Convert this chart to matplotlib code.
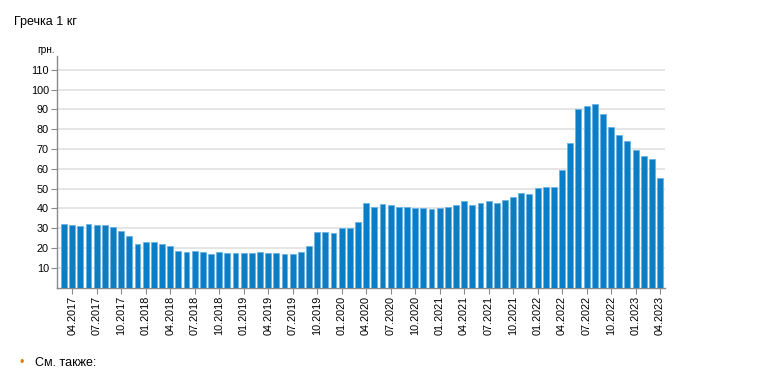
import matplotlib
matplotlib.use("Agg")
import matplotlib.pyplot as plt
import numpy as np

plt.rcParams['font.family'] = ['Liberation Sans', 'DejaVu Sans']

months = []
for y in range(2017, 2024):
    for m in range(1, 13):
        if (y == 2017 and m < 3) or (y == 2023 and m > 4):
            continue
        months.append(f"{m:02d}.{y}")

prices = [
    32.0, 31.5, 31.0, 32.0, 31.5, 31.5, 30.5, 28.6, 25.9, 21.9,
    23.1, 23.1, 21.9, 20.8, 18.6, 17.8, 18.6, 17.8, 16.8, 17.8, 17.3, 17.3,
    17.3, 17.3, 17.8, 17.3, 17.3, 16.8, 16.8, 17.8, 20.8, 28.2, 28.2, 27.8,
    30.0, 30.0, 33.2, 42.9, 40.5, 42.4, 41.9, 40.5, 40.5, 40.0, 40.0, 39.7,
    40.0, 40.5, 41.9, 43.7, 41.9, 42.9, 43.7, 42.9, 44.2, 45.6, 47.8, 47.5,
    50.2, 50.7, 51.0, 59.2, 72.8, 90.2, 91.9, 92.9, 87.9, 81.1, 76.9, 73.9,
    69.6, 66.4, 64.8, 55.6,
]

yticks = [10, 20, 30, 40, 50, 60, 70, 80, 90, 100, 110]
title = "Гречка 1 кг"
unit = "грн."
footer = "См. также:"

fig = plt.figure(figsize=(7.64, 3.71), dpi=100)
ax = fig.add_axes([0.075, 0.225, 0.7954, 0.624])

x = np.arange(len(prices))
ax.bar(x, prices, width=0.72, color="#0a7dc5", edgecolor="#6db3e2", linewidth=0.6, zorder=3)

ax.set_xlim(-0.82, len(prices) - 0.4)
ax.set_ylim(0, 117)
ax.set_yticks(yticks)
ax.set_yticklabels([str(v) for v in yticks], fontsize=7.8, color="#000000")
ax.yaxis.grid(True, color="#e3e3e3", linewidth=1.3, zorder=0)
ax.set_axisbelow(True)

tick_idx = [i for i, mth in enumerate(months) if mth[:2] in ("01", "04", "07", "10")]
ax.set_xticks(tick_idx)
ax.set_xticklabels([months[i] for i in tick_idx], rotation=90, fontsize=7.8, va="top", ha="center")

for s in ("top", "right"):
    ax.spines[s].set_visible(False)
for s in ("left", "bottom"):
    ax.spines[s].set_color("#8a8a8a")
    ax.spines[s].set_linewidth(1.0)
ax.tick_params(axis="both", colors="#8a8a8a", labelcolor="#000000", length=4, width=0.8)
ax.tick_params(axis="x", pad=2)
ax.tick_params(axis="y", pad=2)

fig.text(14 / 764, 1 - 22 / 371, title, fontsize=9, va="center", ha="left")
fig.text(46 / 764, 1 - 50 / 371, unit, fontsize=7.2, va="center", ha="center")
fig.text(22 / 764, 1 - 363 / 371, "•", fontsize=9, color="#e07b00", va="center", ha="center")
fig.text(35 / 764, 1 - 363 / 371, footer, fontsize=9, va="center", ha="left")

fig.savefig("out.png", dpi=100)
